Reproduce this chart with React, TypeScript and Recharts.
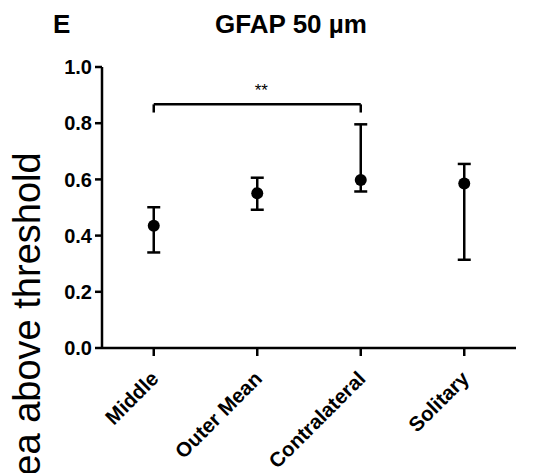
import React from 'react'
import { ComposedChart, Line, XAxis, YAxis, ErrorBar, ReferenceLine } from 'recharts'

// GFAP 50 µm: fraction of area above threshold, mean with asymmetric error
const categories = ['Middle', 'Outer Mean', 'Contralateral', 'Solitary']
const means = [0.435, 0.551, 0.598, 0.585]
const lower = [0.34, 0.492, 0.557, 0.314]
const upper = [0.501, 0.606, 0.796, 0.655]
const yTicks = [0, 0.2, 0.4, 0.6, 0.8, 1.0]

// significance bracket
const bracketFrom = 'Middle'
const bracketTo = 'Contralateral'
const bracketTop = 0.867
const bracketFoot = 0.838
const bracketLabel = '**'

const FONT = '"Liberation Sans", Arial, sans-serif'

const data = categories.map((name, i) => ({
  name,
  mean: means[i],
  err: [means[i] - lower[i], upper[i] - means[i]],
}))

const AngledTick = (props: any) => {
  const { x, y, payload } = props
  const tx = x + 6
  const ty = y + 22
  return (
    <text
      x={tx}
      y={ty}
      textAnchor="end"
      transform={`rotate(-45, ${tx}, ${ty})`}
      fill="#000"
      fontSize={20.5}
      fontWeight={700}
      fontFamily={FONT}
    >
      {payload.value}
    </text>
  )
}

const axisStroke = { stroke: '#000', strokeWidth: 2.5 }

export default function App() {
  return (
    <div style={{ position: 'absolute', left: 0, top: 0, width: 534, height: 473, background: '#fff', overflow: 'hidden' }}>
      <ComposedChart
        width={534}
        height={473}
        data={data}
        margin={{ top: 67, right: 18, bottom: 0, left: 0 }}
      >
        <XAxis
          dataKey="name"
          type="category"
          scale="band"
          height={125}
          axisLine={axisStroke}
          tickLine={axisStroke}
          tickSize={8}
          tickMargin={2}
          interval={0}
          tick={<AngledTick />}
        />
        <YAxis
          type="number"
          domain={[0, 1]}
          ticks={yTicks}
          width={102}
          axisLine={axisStroke}
          tickLine={axisStroke}
          tickSize={7}
          tickMargin={3}
          tickFormatter={(v: number) => v.toFixed(1)}
          tick={{ fill: '#000', fontSize: 20, fontWeight: 700, fontFamily: FONT }}
        />
        <ReferenceLine
          segment={[{ x: bracketFrom, y: bracketTop }, { x: bracketTo, y: bracketTop }]}
          stroke="#000"
          strokeWidth={2.5}
          label={{ value: bracketLabel, position: 'top', offset: 8, dx: 4, fill: '#000', fontSize: 17, fontFamily: FONT }}
        />
        <ReferenceLine
          segment={[{ x: bracketFrom, y: bracketFoot }, { x: bracketFrom, y: bracketTop }]}
          stroke="#000"
          strokeWidth={2.5}
        />
        <ReferenceLine
          segment={[{ x: bracketTo, y: bracketFoot }, { x: bracketTo, y: bracketTop }]}
          stroke="#000"
          strokeWidth={2.5}
        />
        <Line
          dataKey="mean"
          stroke="none"
          dot={{ r: 6, fill: '#000', stroke: '#000', strokeWidth: 0 }}
          activeDot={false}
          isAnimationActive={false}
        >
          <ErrorBar dataKey="err" direction="y" width={6.5} stroke="#000" strokeWidth={2.5} isAnimationActive={false} />
        </Line>
      </ComposedChart>
      <svg width={534} height={473} style={{ position: 'absolute', left: 0, top: 0, pointerEvents: 'none' }}>
        <text x={53} y={33} fontSize={26} fontWeight={700} fontFamily={FONT} fill="#000">E</text>
        <text x={291} y={33} textAnchor="middle" fontSize={26} fontWeight={700} fontFamily={FONT} fill="#000">GFAP 50 µm</text>
        <text
          x={40}
          y={333}
          textAnchor="middle"
          transform="rotate(-90, 40, 333)"
          fontSize={38}
          fontFamily={FONT}
          fill="#000"
        >
          Area above threshold
        </text>
      </svg>
    </div>
  )
}
